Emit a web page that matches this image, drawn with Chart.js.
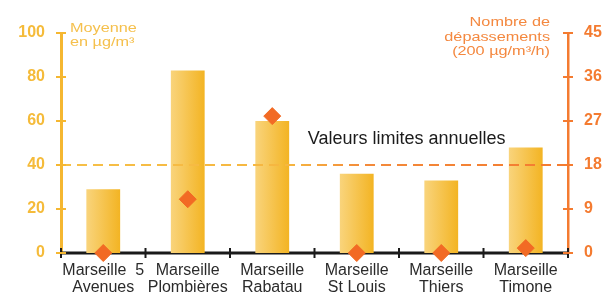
<!DOCTYPE html>
<html><head><meta charset="utf-8">
<script src="https://cdn.jsdelivr.net/npm/chart.js@4"></script>
<style>html,body{margin:0;padding:0;background:#fff}#wrap{width:611px;height:296px;position:relative}</style>
</head><body><div id="wrap"><canvas id="c" width="611" height="296"></canvas></div>
<script>
const categories = [["Marseille  5","Avenues"],["Marseille","Plombières"],["Marseille","Rabatau"],["Marseille","St Louis"],["Marseille","Thiers"],["Marseille","Timone"]];
const moyenne = [29, 83, 60, 36, 33, 48];
const depassements = [0, 11, 28, 0, 0, 1];
const leftTicks = [0, 20, 40, 60, 80, 100];
const rightTicks = [0, 9, 18, 27, 36, 45];
const limitValue = 40;
const limitLabel = "Valeurs limites annuelles";
const leftTitle = ["Moyenne", "en µg/m³"];
const rightTitle = ["Nombre de", "dépassements", "(200 µg/m³/h)"];

const YEL = '#f5b731', ORA = '#f47b30', DIA = '#f26a24';

function stretchedText(ctx, t, x, y, align, sx) {
  ctx.save();
  ctx.translate(x, y); ctx.scale(sx, 1);
  ctx.textAlign = align;
  ctx.fillText(t, 0, 0);
  ctx.restore();
}

const deco = {
  id: 'deco',
  beforeDatasetsDraw(chart) {
    const {ctx, chartArea: a, scales: {x}} = chart;
    ctx.save();
    ctx.strokeStyle = '#1a1a1a'; ctx.lineWidth = 3;
    ctx.beginPath(); ctx.moveTo(a.left, a.bottom); ctx.lineTo(a.right, a.bottom); ctx.stroke();
    ctx.lineWidth = 2;
    const step = (x.getPixelForValue(1) - x.getPixelForValue(0));
    for (let i = 0; i <= categories.length; i++) {
      const p = x.getPixelForValue(0) - step / 2 + i * step;
      ctx.beginPath(); ctx.moveTo(p, a.bottom - 5); ctx.lineTo(p, a.bottom + 5); ctx.stroke();
    }
    ctx.restore();
  },
  afterDatasetsDraw(chart) {
    const {ctx, chartArea: a, scales: {x, y, y1}} = chart;
    ctx.save();
    const ly = y.getPixelForValue(limitValue);
    const g = ctx.createLinearGradient(a.left, 0, a.right, 0);
    g.addColorStop(0, '#f6c047'); g.addColorStop(0.45, '#f6b640'); g.addColorStop(0.6, '#f38a3a'); g.addColorStop(1, ORA);
    ctx.strokeStyle = g; ctx.lineWidth = 2; ctx.setLineDash([10, 6]);
    ctx.beginPath(); ctx.moveTo(a.left, ly); ctx.lineTo(a.right, ly); ctx.stroke();
    ctx.setLineDash([]);
    ctx.fillStyle = '#1b1b1b'; ctx.font = '18px Arial, "Liberation Sans"'; ctx.textAlign = 'left'; ctx.textBaseline = 'middle';
    ctx.fillText(limitLabel, x.getPixelForValue(3) - 49, ly - 26);
    ctx.lineWidth = 2;
    ctx.strokeStyle = YEL;
    leftTicks.forEach(v => { const p = y.getPixelForValue(v); ctx.beginPath(); ctx.moveTo(a.left - 5, p); ctx.lineTo(a.left + 5, p); ctx.stroke(); });
    ctx.strokeStyle = ORA;
    rightTicks.forEach(v => { const p = y1.getPixelForValue(v); ctx.beginPath(); ctx.moveTo(a.right - 5, p); ctx.lineTo(a.right + 5, p); ctx.stroke(); });
    ctx.restore();
  },
  afterDraw(chart) {
    const {ctx, chartArea: a} = chart;
    ctx.save();
    ctx.font = '12.5px Arial, "Liberation Sans"'; ctx.textBaseline = 'middle';
    ctx.fillStyle = '#f5c04d';
    leftTitle.forEach((t, i) => stretchedText(ctx, t, a.left + 9, a.top - 4 + i * 14, 'left', 1.3));
    ctx.fillStyle = '#f4883f';
    rightTitle.forEach((t, i) => stretchedText(ctx, t, a.right - 18, a.top - 10 + i * 14.5, 'right', 1.3));
    ctx.restore();
  }
};

new Chart(document.getElementById('c'), {
  data: {
    labels: categories,
    datasets: [
      { type: 'line', data: depassements, yAxisID: 'y1', showLine: false, clip: false,
        pointStyle: 'rectRot', pointRadius: 8.5, pointHoverRadius: 8.5,
        pointBackgroundColor: DIA, pointBorderColor: DIA, order: 0 },
      { type: 'bar', data: moyenne, yAxisID: 'y', order: 1,
        barPercentage: 0.4, categoryPercentage: 1,
        backgroundColor(c) {
          const ch = c.chart; if (!ch.chartArea) return YEL;
          const xs = ch.scales.x; const cx = xs.getPixelForValue(c.dataIndex);
          const w = xs.width / categories.length * 0.2;
          const g = ch.ctx.createLinearGradient(cx - w, 0, cx + w, 0);
          g.addColorStop(0, '#f9d47c'); g.addColorStop(1, '#f3b423');
          return g;
        } }
    ]
  },
  options: {
    responsive: false, animation: false,
    layout: { padding: { top: 33, left: 0, right: 0, bottom: 0 } },
    plugins: { legend: { display: false }, tooltip: { enabled: false } },
    scales: {
      x: { offset: true, grid: { display: false }, border: { display: false },
        ticks: { color: '#2b2b2b', font: { size: 16, family: 'Arial, "Liberation Sans"', lineHeight: 1.07 }, padding: 1, maxRotation: 0, autoSkip: false },
        afterFit(s) { s.height = 43; } },
      y: { position: 'left', min: 0, max: 100, grid: { display: false },
        border: { display: true, color: YEL, width: 3 },
        ticks: { stepSize: 20, color: '#f5bb3a', padding: 8, font: { size: 16, weight: 'bold', family: 'Arial, "Liberation Sans"' } },
        afterFit(s) { s.width = 61; } },
      y1: { position: 'right', min: 0, max: 45, grid: { display: false },
        border: { display: true, color: ORA, width: 2.5 },
        ticks: { stepSize: 9, color: ORA, padding: 8, font: { size: 16, weight: 'bold', family: 'Arial, "Liberation Sans"' } },
        afterFit(s) { s.width = 43; } }
    }
  },
  plugins: [deco]
});
</script></body></html>
